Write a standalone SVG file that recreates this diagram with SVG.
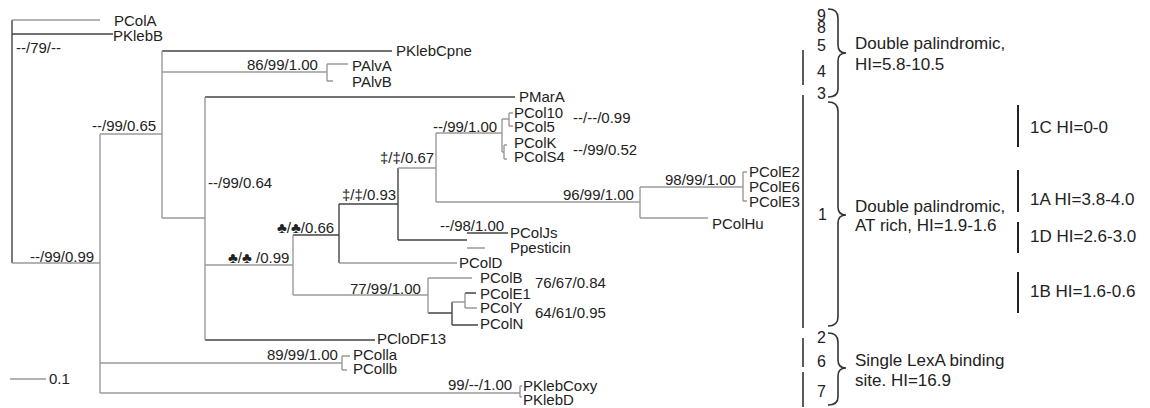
<svg xmlns="http://www.w3.org/2000/svg" width="1150" height="408" viewBox="0 0 1150 408">
<style>
text{font-family:"Liberation Sans",Arial,sans-serif;fill:#222}
.t{font-size:15px}
.r{font-size:17px}
.n{font-size:16px}
.g{fill:none;stroke:#9a9a9a;stroke-width:1.4}
.k{fill:none;stroke:#444;stroke-width:1.4}
.b{fill:none;stroke:#333;stroke-width:1.6}
.s{fill:none;stroke:#222;stroke-width:2}
</style>
<rect width="1150" height="408" fill="#fff"/>
<g id="connectors">
<path class="k" d="M12,20V263M12,34H113M162,51H392M205,97H515M205,340H375M339,204H398M398,168V240M398,240H467M467,233H508M428,313H452M452,302V325M452,325H478M465,293H476M293,235H339M339,204V263"/>
<path class="g" d="M12,20H100M12,263H100M100,134V393M100,134H162M100,363H342M100,393H520M162,51V218M162,72H327M162,218H205M327,64V81M327,64H348M327,81H333M205,97V340M205,265H293M293,235V295M293,295H428M339,263H457M398,168H436M436,133V202M436,133H502M436,202H640M502,119V152M502,119H509M509,113V126M509,113H513M509,126H513M502,152H504M504,145V159M504,145H507M504,159H507M640,187V218M640,187H743M640,218H708M743,172V201M743,172H747M743,201H747M467,248H485M428,278V313M428,278H472M452,302H465M465,293V308M465,308H477M342,356V370M342,356H350M342,370H347M520,386V397M520,386H522M520,397H522M10,379H46"/>
<path class="b" d="M803,50V85M803,95V328M803,338V367M803,372V407"/>
<path class="s" d="M1018,105V147M1018,170V212M1018,222V253M1018,272V313"/>
<path class="b" d="M828,9Q838,9 838,18V45Q838,53 846,53Q838,53 838,61V89Q838,97 828,97"/>
<path class="b" d="M828,102Q838,102 838,111V207Q838,215 846,215Q838,215 838,223V317Q838,326 828,326"/>
<path class="b" d="M828,333Q838,333 838,342V360Q838,368 846,368Q838,368 838,376V397Q838,405 828,405"/>
</g>
<g id="leaves" class="t">
<g id="PColA"><text class="t" x="114" y="26">PColA</text></g>
<g id="PKlebB"><text class="t" x="113" y="41">PKlebB</text></g>
<g id="PKlebCpne"><text class="t" x="396" y="56">PKlebCpne</text></g>
<g id="PAlvA"><text class="t" x="352" y="71">PAlvA</text></g>
<g id="PAlvB"><text class="t" x="352" y="87">PAlvB</text></g>
<g id="PMarA"><text class="t" x="519" y="102">PMarA</text></g>
<g id="PCol10"><text class="t" x="514" y="118">PCol10</text></g>
<g id="PCol5"><text class="t" x="514" y="132">PCol5</text></g>
<g id="PColK"><text class="t" x="514" y="148">PColK</text></g>
<g id="PColS4"><text class="t" x="514" y="162">PColS4</text></g>
<g id="PColE2"><text class="t" x="749" y="177">PColE2</text></g>
<g id="PColE6"><text class="t" x="749" y="192">PColE6</text></g>
<g id="PColE3"><text class="t" x="749" y="207">PColE3</text></g>
<g id="PColHu"><text class="t" x="712" y="229">PColHu</text></g>
<g id="PColJs"><text class="t" x="510" y="238">PColJs</text></g>
<g id="Ppesticin"><text class="t" x="510" y="253">Ppesticin</text></g>
<g id="PColD"><text class="t" x="459" y="268">PColD</text></g>
<g id="PColB"><text class="t" x="480" y="283">PColB</text></g>
<g id="PColE1"><text class="t" x="480" y="299">PColE1</text></g>
<g id="PColY"><text class="t" x="480" y="313">PColY</text></g>
<g id="PColN"><text class="t" x="480" y="329">PColN</text></g>
<g id="PCloDF13"><text class="t" x="377" y="344">PCloDF13</text></g>
<g id="PColIa"><text class="t" x="353" y="360">PColla</text></g>
<g id="PColIb"><text class="t" x="353" y="374">PCollb</text></g>
<g id="PKlebCoxy"><text class="t" x="523" y="391">PKlebCoxy</text></g>
<g id="PKlebD"><text class="t" x="523" y="405">PKlebD</text></g>
</g>
<g id="supports">
<text class="t" x="16" y="53">--/79/--</text>
<text class="t" x="92" y="131">--/99/0.65</text>
<text class="t" x="247" y="70">86/99/1.00</text>
<text class="t" x="30" y="262">--/99/0.99</text>
<text class="t" x="208" y="188">--/99/0.64</text>
<text class="t" x="228" y="263">♣/♣ /0.99</text>
<text class="t" x="277" y="233">♣/♣/0.66</text>
<text class="t" x="342" y="200">‡/‡/0.93</text>
<text class="t" x="380" y="163">‡/‡/0.67</text>
<text class="t" x="433" y="132">--/99/1.00</text>
<text class="t" x="573" y="123">--/--/0.99</text>
<text class="t" x="573" y="155">--/99/0.52</text>
<text class="t" x="563" y="200">96/99/1.00</text>
<text class="t" x="665" y="185">98/99/1.00</text>
<text class="t" x="440" y="231">--/98/1.00</text>
<text class="t" x="350" y="294">77/99/1.00</text>
<text class="t" x="535" y="288">76/67/0.84</text>
<text class="t" x="535" y="318">64/61/0.95</text>
<text class="t" x="267" y="360">89/99/1.00</text>
<text class="t" x="448" y="390">99/--/1.00</text>
<text class="t" x="49" y="384">0.1</text>
</g>
<g id="groups">
<text class="n" x="817" y="21">9</text>
<text class="n" x="817" y="33">8</text>
<text class="n" x="817" y="51">5</text>
<text class="n" x="817" y="77">4</text>
<text class="n" x="817" y="99">3</text>
<text class="n" x="818" y="220">1</text>
<text class="n" x="817" y="343">2</text>
<text class="n" x="817" y="367">6</text>
<text class="n" x="817" y="397">7</text>
<text class="r" x="855" y="49">Double palindromic,</text>
<text class="r" x="855" y="70">HI=5.8-10.5</text>
<text class="r" x="855" y="212">Double palindromic,</text>
<text class="r" x="855" y="231">AT rich, HI=1.9-1.6</text>
<text class="r" x="855" y="366">Single LexA binding</text>
<text class="r" x="855" y="386">site. HI=16.9</text>
<text class="r" x="1030" y="133">1C HI=0-0</text>
<text class="r" x="1030" y="205">1A HI=3.8-4.0</text>
<text class="r" x="1030" y="242">1D HI=2.6-3.0</text>
<text class="r" x="1030" y="297">1B HI=1.6-0.6</text>
</g>
</svg>
